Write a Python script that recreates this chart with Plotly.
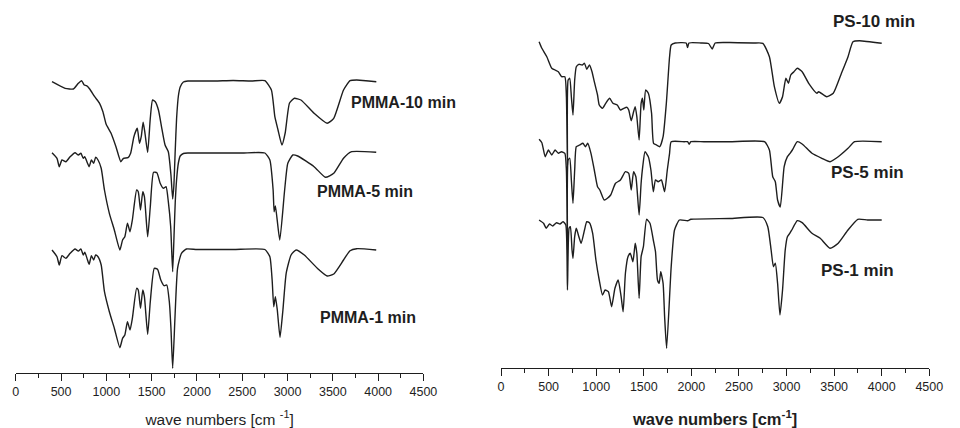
import plotly.graph_objects as go

# ---------------- PMMA spectra (wavenumber cm-1, transmittance a.u.) ----------------
pmma10_wn = [400, 545, 636, 691, 726, 756, 781, 816, 871, 925, 962, 998, 1052, 1106, 1160,
             1189, 1239, 1268, 1304, 1341, 1366, 1385, 1406, 1424, 1456, 1485, 1510, 1540,
             1575, 1612, 1648, 1684, 1713, 1732, 1745, 1760, 1775, 1795, 1815, 1850, 1900,
             2000, 2200, 2400, 2600, 2750, 2822, 2860, 2895, 2938, 2974, 3022, 3076, 3148,
             3293, 3437, 3510, 3618, 3690, 3763, 3980]
pmma10_t = [99.3, 92.7, 92, 97.7, 100.3, 96, 95.3, 92, 84.3, 77.7, 69.3, 56.7, 47.7, 34.3, 19.3,
            22.7, 23.3, 27.7, 44.3, 52.7, 37.7, 44.3, 58.7, 49.3, 28.7, 62.7, 81, 79.3,
            71, 52.7, 36, 29.3, 6, -18, -5, 30, 62, 85, 94, 99, 100,
            100, 100, 100.5, 100, 100.3, 91, 64.3, 51, 36, 48, 78, 82.7, 81,
            67.7, 57.7, 62.7, 91, 100.3, 101, 99.3]

pmma5_wn = [400, 455, 480, 510, 553, 600, 654, 691, 719, 745, 762, 792, 810, 835, 860, 882, 908,
            943, 979, 1033, 1088, 1149, 1179, 1204, 1233, 1261, 1287, 1334, 1352, 1377, 1402,
            1420, 1456, 1485, 1521, 1558, 1594, 1630, 1659, 1684, 1710, 1732, 1748, 1760, 1775,
            1795, 1815, 1850, 1900, 2000, 2300, 2500, 2750, 2805, 2841, 2852, 2866, 2914,
            2968, 3003, 3058, 3112, 3293, 3419, 3510, 3618, 3708, 3979]
pmma5_t = [100.3, 94.7, 86.3, 93, 91.3, 96.3, 100.3, 98, 99.7, 94.7, 96.3, 89.7, 86.3, 93, 89.7,
           95.7, 93, 84.7, 63, 39.7, 23, 3, 13, 16.3, 29.7, 21.3, 33, 63, 61.3, 43, 61.3,
           56.3, 16.3, 46.3, 80.7, 80.3, 69.7, 64.7, 66.3, 51.3, 26.3, -18.7, 20, 50, 73,
           90, 97, 99.5, 100, 100, 100, 100, 100, 93, 63, 41.3, 47, 13,
           63, 89.7, 98, 97, 86.3, 75.7, 79.7, 94.7, 101.3, 100.7]

pmma1_wn = [400, 455, 480, 510, 553, 600, 654, 691, 719, 745, 762, 792, 810, 835, 860, 882, 908,
            943, 979, 1033, 1088, 1149, 1179, 1204, 1233, 1261, 1287, 1334, 1352, 1377, 1402,
            1420, 1456, 1485, 1529, 1565, 1601, 1637, 1667, 1695, 1713, 1732, 1757, 1786,
            1829, 1883, 2000, 2400, 2750, 2805, 2830, 2848, 2866, 2887, 2917, 2949, 2985,
            3039, 3094, 3185, 3329, 3437, 3510, 3618, 3690, 3763, 3979]
pmma1_t = [99.5, 92.8, 84.5, 93.8, 91.2, 96.2, 100.5, 98.5, 100.5, 94.5, 97.2, 89.5, 85.2, 93.8,
           89.5, 94.5, 92.8, 84.5, 57.8, 37.8, 21.2, 1.8, 11.2, 14.5, 27.8, 19.5, 31.2, 61.2,
           59.5, 41.2, 59.5, 52.8, 15.2, 47.8, 81.2, 80.2, 69.5, 63.8, 64.5, 47.8, 21.2, -18.8,
           31.2, 81.2, 96.2, 100.5, 100, 100, 100, 92.8, 69.5, 42.8, 52.8, 39.5, 12.2, 39.5,
           76.2, 94.5, 99.5, 94.5, 81.2, 73.5, 75.5, 89.5, 98.8, 100.8, 99.5]

# ---------------- PS spectra (wavenumber cm-1, transmittance a.u.) ----------------
ps10_wn = [400, 429, 481, 533, 568, 602, 636, 671, 687, 698, 705, 722, 739, 756, 774, 791, 818,
           852, 877, 901, 929, 956, 980, 1014, 1032, 1066, 1100, 1141, 1176, 1221, 1255, 1290,
           1324, 1342, 1368, 1393, 1410, 1427, 1451, 1472, 1486, 1500, 1520, 1548, 1582, 1603,
           1634, 1668, 1703, 1737, 1771, 1788, 1830, 1945, 1960, 1975, 2100, 2180, 2219, 2250,
           2400, 2650, 2751, 2820, 2872, 2924, 2958, 2993, 3020, 3044, 3078, 3113, 3164, 3233,
           3319, 3337, 3422, 3491, 3577, 3646, 3698, 3767, 4000]
ps10_t = [101.3, 94.7, 86.3, 74.7, 73, 71.3, 66.3, 66.3, 46.3, -22, 63, 64.7, 46.3, 28, 63, 76.3,
          78.7, 78, 79.7, 73.7, 78, 71.3, 61.3, 48, 38, 34.7, 39.7, 44.7, 39.7, 38, 33, 34.7,
          35.7, 33, 22.3, 31.3, 36.3, 26.3, 3, 39.7, 44.7, 33, 53, 49.7, 29.7, -0.3,
          -2, -3.7, 6.3, 39.7, 86.3, 98, 100, 100, 95.5, 100, 100, 99.5, 94, 100,
          100.5, 100, 99.7, 86.3, 56.3, 39.7, 46.3, 64.7, 59.7, 68, 71.3, 74.7, 71.3, 59.7,
          49.7, 51.3, 46.3, 49.7, 69.7, 86.3, 101.3, 102.3, 99.7]

ps5_wn = [400, 429, 464, 498, 533, 568, 602, 636, 671, 687, 698, 705, 722, 739, 756, 774, 791,
          826, 860, 888, 911, 945, 980, 1014, 1038, 1084, 1118, 1152, 1203, 1255, 1307, 1342,
          1368, 1393, 1417, 1451, 1472, 1489, 1513, 1548, 1575, 1600, 1623, 1651, 1685, 1719,
          1747, 1771, 1788, 1926, 1960, 1977, 1995, 2132, 2400, 2769, 2820, 2855, 2882, 2906,
          2934, 2975, 3009, 3037, 3061, 3113, 3164, 3267, 3371, 3457, 3543, 3646, 3715, 4000]
ps5_t = [102.4, 99, 85, 91.7, 86.7, 91.7, 88.4, 90, 88.4, 71.7, -8.3, 81.7, 83.4, 61.7, 38.4,
         71.7, 95, 96.7, 98.4, 95, 98.4, 88.4, 71.7, 55, 51.7, 41.7, 43.4, 46.7, 58.4, 61.7, 70,
         68.4, 51.7, 70, 65, 26.7, 58.4, 75, 90, 85, 71.7, 50, 61.7, 60, 61.7, 50,
         71.7, 88.4, 100, 100, 100, 97.5, 100, 100, 100, 100, 91.7, 65, 60, 41.7,
         34.7, 75, 85, 88.4, 91.7, 100, 97.7, 88.4, 83.4, 80, 85, 93.4, 100, 100]

ps1_wn = [400, 447, 475, 509, 543, 584, 619, 653, 681, 698, 715, 729, 746, 756, 774, 791, 818,
          842, 877, 901, 929, 963, 997, 1032, 1066, 1094, 1128, 1162, 1197, 1231, 1262, 1283,
          1307, 1334, 1358, 1386, 1410, 1427, 1451, 1472, 1496, 1530, 1565, 1600, 1623, 1644,
          1662, 1678, 1703, 1719, 1740, 1788, 1823, 1874, 1961, 1995, 2400, 2751, 2803, 2838,
          2862, 2882, 2906, 2931, 2958, 2986, 3009, 3034, 3055, 3113, 3164, 3267, 3354, 3457,
          3543, 3646, 3749, 3852, 4000]
ps1_t = [99.5, 96.2, 91.2, 95.5, 93.5, 96.8, 95.5, 97.8, 94.5, 29.5, 91.2, 92.8, 69.5, 61.2,
         82.8, 91.2, 82.8, 76.2, 89.5, 97.8, 96.8, 86.2, 59.5, 39.5, 24.5, 29.5, 27.8, 12.8,
         31.2, 39.5, 22.8, 7.8, 46.2, 62.8, 66.2, 57.8, 76.2, 66.2, 21.2, 62.8, 72.8, 100.2,
         96.2, 79.5, 67.8, 39.5, 36.2, 47.8, 36.2, 2.8, -28.8, 52.8, 89.5, 99.5, 98.8, 100.2,
         101, 102, 92.8, 69.5, 52.8, 56.2, 36.2, 4.5, 29.5, 69.5, 82.8, 86.2, 89.5, 98.8,
         96.8, 86.2, 81.2, 71.2, 76.2, 89.5, 100.2, 99.5, 99.5]

pmma_labels = ["PMMA-10 min", "PMMA-5 min", "PMMA-1 min"]
ps_labels = ["PS-10 min", "PS-5 min", "PS-1 min"]

# vertical stacking offsets for each panel
pmma_shift = [192, 120, 23.5]
ps_shift = [225, 126.3, 48.5]

INK = "#1e1e1e"
LINE = dict(color=INK, width=1.4)
FONT = "Liberation Sans, Arial, sans-serif"

fig = go.Figure()

pmma_sets = [(pmma10_wn, pmma10_t), (pmma5_wn, pmma5_t), (pmma1_wn, pmma1_t)]
for (wn, t), s, name in zip(pmma_sets, pmma_shift, pmma_labels):
    fig.add_trace(go.Scatter(x=wn, y=[v + s for v in t], mode="lines", name=name,
                             line=LINE, xaxis="x", yaxis="y", showlegend=False,
                             line_shape="spline", line_smoothing=0.5))

ps_sets = [(ps10_wn, ps10_t), (ps5_wn, ps5_t), (ps1_wn, ps1_t)]
for (wn, t), s, name in zip(ps_sets, ps_shift, ps_labels):
    fig.add_trace(go.Scatter(x=wn, y=[v + s for v in t], mode="lines", name=name,
                             line=LINE, xaxis="x2", yaxis="y2", showlegend=False,
                             line_shape="spline", line_smoothing=0.5))

axis_common = dict(
    range=[0, 4500], showline=True, linecolor=INK, linewidth=1.3,
    ticks="outside", ticklen=7, tickwidth=1.3, tickcolor=INK, dtick=500, tick0=0,
    minor=dict(ticks="outside", ticklen=4, tickwidth=1.2, tickcolor=INK, dtick=250),
    showgrid=False, zeroline=False, tickfont=dict(family=FONT, size=12.5, color=INK),
)

fig.update_layout(
    width=960, height=428,
    margin=dict(l=0, r=0, t=0, b=0),
    paper_bgcolor="white", plot_bgcolor="white",
    font=dict(family=FONT, color=INK),
    xaxis=dict(domain=[13 / 960, 428 / 960], anchor="y",
               title=dict(text="wave numbers [cm <sup>-1</sup>]",
                          font=dict(family=FONT, size=15.5), standoff=16),
               **axis_common),
    yaxis=dict(domain=[55 / 428, 398 / 428], range=[0, 343], visible=False),
    xaxis2=dict(domain=[507 / 960, 943 / 960], anchor="y2",
                title=dict(text="<b>wave numbers [cm<sup>-1</sup>]</b>",
                           font=dict(family=FONT, size=16.5), standoff=20),
                **axis_common),
    yaxis2=dict(domain=[60 / 428, 1.0], range=[0, 368], visible=False),
)

# curve labels
pmma_label_pos = [(4278, 270), (3860, 181), (3893, 56)]
ps_label_pos = [(3920, 347), (3847, 196), (3744, 98)]
for name, (x, y) in zip(pmma_labels, pmma_label_pos):
    fig.add_annotation(x=x, y=y, xref="x", yref="y", text=f"<b>{name}</b>", showarrow=False,
                       font=dict(family=FONT, size=16, color=INK))
for name, (x, y) in zip(ps_labels, ps_label_pos):
    fig.add_annotation(x=x, y=y, xref="x2", yref="y2", text=f"<b>{name}</b>", showarrow=False,
                       font=dict(family=FONT, size=17, color=INK))

fig.write_html("out.html")
